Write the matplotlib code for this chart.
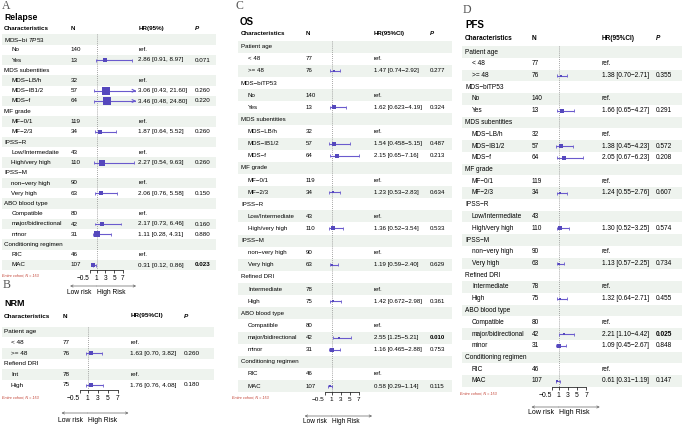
# Forest plots of multivariable Cox models: Relapse, NRM, OS, PFS

import numpy as np
import matplotlib.pyplot as plt

plt.rcParams['font.family'] = ['Liberation Sans', 'DejaVu Sans']
plt.rcParams['mathtext.fontset'] = 'custom'
plt.rcParams['mathtext.rm'] = 'Liberation Sans'
plt.rcParams['mathtext.it'] = 'Liberation Sans:italic'

_ = np.nan

# ---- A: Relapse
relapse_labels = ["MDS−bi $\\mathit{TP53}$", "No", "Yes", "MDS subentities", "MDS−LB/h", "MDS−IB1/2",
                  "MDS−f", "MF grade", "MF−0/1", "MF−2/3", "IPSS−R", "Low/Intermedaite",
                  "High/very high", "IPSS−M", "non−very high", "Very high", "ABO blood type",
                  "Compatible", "major/bidirectional", "minor", "Conditioning regimen", "RIC", "MAC"]
relapse_n = ["", "140", "13", "", "32", "57", "64", "", "119", "34", "", "43", "110", "",
             "90", "63", "", "80", "42", "31", "", "46", "107"]
relapse_hr = [_, _, 2.86, _, _, 3.06, 3.46, _, _, 1.87, _, _, 2.27, _, _, 2.06, _, _, 2.17, 1.11, _, _, 0.31]
relapse_lo = [_, _, 0.91, _, _, 0.43, 0.48, _, _, 0.64, _, _, 0.54, _, _, 0.76, _, _, 0.73, 0.28, _, _, 0.12]
relapse_hi = [_, _, 8.97, _, _, 21.60, 24.80, _, _, 5.52, _, _, 9.63, _, _, 5.58, _, _, 6.46, 4.31, _, _, 0.86]
relapse_ci = ["", "ref.", "2.86 [0.91, 8.97]", "", "ref.", "3.06 [0.43, 21.60]", "3.46 [0.48, 24.80]",
              "", "ref.", "1.87 [0.64, 5.52]", "", "ref.", "2.27 [0.54, 9.63]", "", "ref.",
              "2.06 [0.76, 5.58]", "", "ref.", "2.17 [0.73, 6.46]", "1.11 [0.28, 4.31]", "", "ref.",
              "0.31 [0.12, 0.86]"]
relapse_p = ["", "", "0.071", "", "", "0.260", "0.220", "", "", "0.260", "", "", "0.260", "", "",
             "0.150", "", "", "0.160", "0.880", "", "", "0.023"]

# ---- B: NRM
nrm_labels = ["Patient age", "< 48", ">= 48", "Refiend DRI", "Int", "High"]
nrm_n = ["", "77", "76", "", "78", "75"]
nrm_hr = [_, _, 1.63, _, _, 1.76]
nrm_lo = [_, _, 0.70, _, _, 0.76]
nrm_hi = [_, _, 3.82, _, _, 4.08]
nrm_ci = ["", "ref.", "1.63 [0.70, 3.82]", "", "ref.", "1.76 [0.76, 4.08]"]
nrm_p = ["", "", "0.260", "", "", "0.180"]

# ---- C: OS
os_labels = ["Patient age", "< 48", ">= 48", "MDS−biTP53", "No", "Yes", "MDS subentities", "MDS−LB/h",
             "MDS−IB1/2", "MDS−f", "MF grade", "MF−0/1", "MF−2/3", "IPSS−R", "Low/Intermediate",
             "High/very high", "IPSS−M", "non−very high", "Very high", "Refined DRI", "Intermediate",
             "High", "ABO blood type", "Compatible", "major/bidirectional", "minor",
             "Conditioning regimen", "RIC", "MAC"]
os_n = ["", "77", "76", "", "140", "13", "", "32", "57", "64", "", "119", "34", "", "43", "110", "",
        "90", "63", "", "78", "75", "", "80", "42", "31", "", "46", "107"]
os_hr = [_, _, 1.47, _, _, 1.62, _, _, 1.54, 2.15, _, _, 1.23, _, _, 1.36, _, _, 1.19, _, _, 1.42,
         _, _, 2.55, 1.16, _, _, 0.58]
os_lo = [_, _, 0.74, _, _, 0.623, _, _, 0.458, 0.65, _, _, 0.53, _, _, 0.52, _, _, 0.59, _, _, 0.672,
         _, _, 1.25, 0.465, _, _, 0.29]
os_hi = [_, _, 2.92, _, _, 4.19, _, _, 5.15, 7.16, _, _, 2.83, _, _, 3.54, _, _, 2.40, _, _, 2.98,
         _, _, 5.21, 2.88, _, _, 1.14]
os_ci = ["", "ref.", "1.47 [0.74−2.92]", "", "ref.", "1.62 [0.623−4.19]", "", "ref.",
         "1.54 [0.458−5.15]", "2.15 [0.65−7.16]", "", "ref.", "1.23 [0.53−2.83]", "", "ref.",
         "1.36 [0.52−3.54]", "", "ref.", "1.19 [0.59−2.40]", "", "ref.", "1.42 [0.672−2.98]", "",
         "ref.", "2.55 [1.25−5.21]", "1.16 [0.465−2.88]", "", "ref.", "0.58 [0.29−1.14]"]
os_p = ["", "", "0.277", "", "", "0.324", "", "", "0.487", "0.213", "", "", "0.634", "", "", "0.533",
        "", "", "0.629", "", "", "0.361", "", "", "0.010", "0.753", "", "", "0.115"]

# ---- D: PFS
pfs_labels = os_labels
pfs_n = os_n
pfs_hr = [_, _, 1.38, _, _, 1.66, _, _, 1.38, 2.05, _, _, 1.24, _, _, 1.30, _, _, 1.13, _, _, 1.32,
          _, _, 2.21, 1.09, _, _, 0.61]
pfs_lo = [_, _, 0.70, _, _, 0.65, _, _, 0.45, 0.67, _, _, 0.55, _, _, 0.52, _, _, 0.57, _, _, 0.64,
          _, _, 1.10, 0.45, _, _, 0.31]
pfs_hi = [_, _, 2.71, _, _, 4.27, _, _, 4.23, 6.23, _, _, 2.76, _, _, 3.25, _, _, 2.25, _, _, 2.71,
          _, _, 4.42, 2.67, _, _, 1.19]
pfs_ci = ["", "ref.", "1.38 [0.70−2.71]", "", "ref.", "1.66 [0.65−4.27]", "", "ref.",
          "1.38 [0.45−4.23]", "2.05 [0.67−6.23]", "", "ref.", "1.24 [0.55−2.76]", "", "",
          "1.30 [0.52−3.25]", "", "ref.", "1.13 [0.57−2.25]", "", "ref.", "1.32 [0.64−2.71]", "",
          "ref.", "2.21 [1.10−4.42]", "1.09 [0.45−2.67]", "", "ref.", "0.61 [0.31−1.19]"]
pfs_p = ["", "", "0.355", "", "", "0.291", "", "", "0.572", "0.208", "", "", "0.607", "", "", "0.574",
         "", "", "0.734", "", "", "0.455", "", "", "0.025", "0.848", "", "", "0.147"]

x_ticks = [-0.5, 1, 3, 5, 7]
x_tick_labels = ["−0.5", "1", "3", "5", "7"]
cohort_txt = "Entire cohort, N = 153"

W, H = 685, 426
SHADE = "#eef3ee"
LINE_C = "#6a5acd"
BOX_C = "#5548bd"


def px_rect(x0, x1, y0, y1):
    return [x0 / W, 1 - y1 / H, (x1 - x0) / W, (y1 - y0) / H]


def draw_panel(fig, letter, title, hr_head, labels, n, hr, lo, hi, ci, p, lay):
    hr, lo, hi = np.array(hr, float), np.array(lo, float), np.array(hi, float)
    nr = len(labels)
    pitch = lay["pitch"]
    ytop = lay["y_first"] - pitch / 2
    ybot = lay["y_first"] + (nr - 1) * pitch + pitch / 2
    fs = lay["fs"]

    fig.text(lay["letter"][0] / W, 1 - lay["letter"][1] / H, letter, family="Liberation Serif",
             fontsize=8.5, color="#555555", va="center")
    fig.text(lay["title"][0] / W, 1 - lay["title"][1] / H, title, fontsize=lay["title_fs"],
             fontweight="bold", va="center")
    fig.text(lay["cohort"][0] / W, 1 - lay["cohort"][1] / H, cohort_txt, fontsize=2.7,
             style="italic", color="#c0392b", va="center")

    # table
    ax = fig.add_axes(px_rect(lay["x0"], lay["x1"], ytop, ybot))
    ax.set_xlim(lay["x0"], lay["x1"])
    ax.set_ylim(nr - 0.5, -0.5)
    ax.axis("off")
    for i in range(0, nr, 2):
        ax.axhspan(i - 0.5, i + 0.5, color=SHADE, lw=0, zorder=0)

    yh = (lay["y_head"] - lay["y_first"]) / pitch
    cx = lay["cols"]
    ax.text(cx[0], yh, "Characteristics", fontsize=fs, fontweight="bold", va="center")
    ax.text(cx[2], yh, "N", fontsize=fs, fontweight="bold", va="center")
    ax.text(cx[3], yh, hr_head, fontsize=fs, fontweight="bold", va="center")
    ax.text(cx[4], yh, "P", fontsize=fs, fontweight="bold", style="italic", va="center")

    for i in range(nr):
        is_group = n[i] == ""
        ax.text(cx[0] if is_group else cx[1], i, labels[i], fontsize=fs, va="center")
        ax.text(cx[2], i, n[i], fontsize=fs, va="center")
        ax.text(cx[3], i, ci[i], fontsize=fs, va="center")
        if p[i]:
            ax.text(cx[4], i, p[i], fontsize=fs, va="center",
                    fontweight="bold" if float(p[i]) < 0.05 else "normal")

    # forest
    xl = lay["xlim"]
    ppu = lay["ppu"]
    fx0 = lay["ref_x"] + (xl[0] - 1) * ppu
    fx1 = lay["ref_x"] + (xl[1] - 1) * ppu
    fax = fig.add_axes(px_rect(fx0, fx1, ytop, ybot))
    fax.patch.set_alpha(0)
    fax.set_xlim(xl)
    fax.set_ylim(nr - 0.5, -0.5)
    for s in ["top", "left", "right"]:
        fax.spines[s].set_visible(False)
    fax.spines["bottom"].set_linewidth(0.5)
    fax.spines["bottom"].set_bounds(x_ticks[0], x_ticks[-1])
    fax.set_yticks([])
    fax.set_xticks(x_ticks)
    fax.set_xticklabels(x_tick_labels)
    fax.tick_params(axis="x", length=2.5, width=0.5, labelsize=fs + 0.2, pad=1)
    fax.get_xticklabels()[0].set_ha("right")

    fax.vlines(1, -0.5, nr - 0.5, colors="#888888", linestyles=(0, (1, 1.5)), lw=0.6)

    cap = 1.5 / pitch
    for i in range(nr):
        if np.isnan(hr[i]):
            continue
        l, r = max(lo[i], xl[0]), min(hi[i], xl[1])
        fax.hlines(i, l, r, colors=LINE_C, lw=0.8)
        if lo[i] >= xl[0]:
            fax.vlines(lo[i], i - cap, i + cap, colors=LINE_C, lw=0.6)
        if hi[i] <= xl[1]:
            fax.vlines(hi[i], i - cap, i + cap, colors=LINE_C, lw=0.6)
        else:
            fax.annotate("", xy=(xl[1], i), xytext=(xl[1] - 0.5, i),
                         arrowprops=dict(arrowstyle="->", lw=0.8, color=LINE_C,
                                         shrinkA=0, shrinkB=0, mutation_scale=5))
        side = max(2.2, lay["box_k"] * np.log(hi[i] / lo[i]))
        fax.scatter(hr[i], i, marker="s", s=(side * 0.72) ** 2, color=BOX_C, lw=0, zorder=3)

    ya = (lay["arrow_y"] - lay["y_first"]) / pitch
    yt = (lay["lab_y"] - lay["y_first"]) / pitch
    for end in xl:
        fax.annotate("", xy=(end, ya), xytext=(1, ya), annotation_clip=False,
                     arrowprops=dict(arrowstyle="->", lw=0.5, color="#666666",
                                     shrinkA=0, shrinkB=0, mutation_scale=4))
    fax.text(1 - 5 / ppu, yt, "Low risk", fontsize=fs + 0.3, ha="right", va="center")
    fax.text(1 + 0.5 / ppu, yt, "High Risk", fontsize=fs + 0.3, ha="left", va="center")


fig = plt.figure(figsize=(W / 100, H / 100), dpi=100)

lay_a = dict(x0=2, x1=216, letter=(2, 6), title=(4, 17), title_fs=6.2, y_head=28.5, y_first=39.5,
             pitch=10.25, cols=(4, 11.5, 70.5, 138.5, 194.5), ref_x=96.5, ppu=4.4, xlim=(-5, 10),
             fs=4.5, cohort=(2, 276), arrow_y=286, lab_y=292, box_k=2.0)
lay_b = dict(x0=2, x1=214, letter=(3, 285), title=(4, 303), title_fs=6.5, y_head=316, y_first=332,
             pitch=10.6, cols=(4, 11, 63, 130.5, 184), ref_x=87.5, ppu=5.0, xlim=(-4.2, 9.2),
             fs=4.6, cohort=(2, 398), arrow_y=413, lab_y=420, box_k=2.0)
lay_c = dict(x0=238, x1=452, letter=(236, 6), title=(240, 22), title_fs=7, y_head=33.5,
             y_first=46.7, pitch=12.12, cols=(241, 248, 306, 374, 430), ref_x=331.6, ppu=4.5,
             xlim=(-5, 10), fs=4.4, cohort=(232, 398), arrow_y=416, lab_y=422, box_k=1.7)
lay_d = dict(x0=462, x1=682, letter=(463, 10), title=(465, 25), title_fs=7, y_head=38, y_first=52,
             pitch=11.75, cols=(465, 472, 532, 602, 656), ref_x=558.8, ppu=4.55, xlim=(-5, 10),
             fs=4.7, cohort=(460, 394), arrow_y=407, lab_y=413, box_k=1.7)

draw_panel(fig, "A", "Relapse", "HR(95%)", relapse_labels, relapse_n, relapse_hr, relapse_lo,
           relapse_hi, relapse_ci, relapse_p, lay_a)
draw_panel(fig, "B", "NRM", "HR(95%CI)", nrm_labels, nrm_n, nrm_hr, nrm_lo, nrm_hi, nrm_ci,
           nrm_p, lay_b)
draw_panel(fig, "C", "OS", "HR(95%CI)", os_labels, os_n, os_hr, os_lo, os_hi, os_ci, os_p, lay_c)
draw_panel(fig, "D", "PFS", "HR(95%CI)", pfs_labels, pfs_n, pfs_hr, pfs_lo, pfs_hi, pfs_ci,
           pfs_p, lay_d)

fig.savefig("out.png", dpi=100)
plt.close(fig)
